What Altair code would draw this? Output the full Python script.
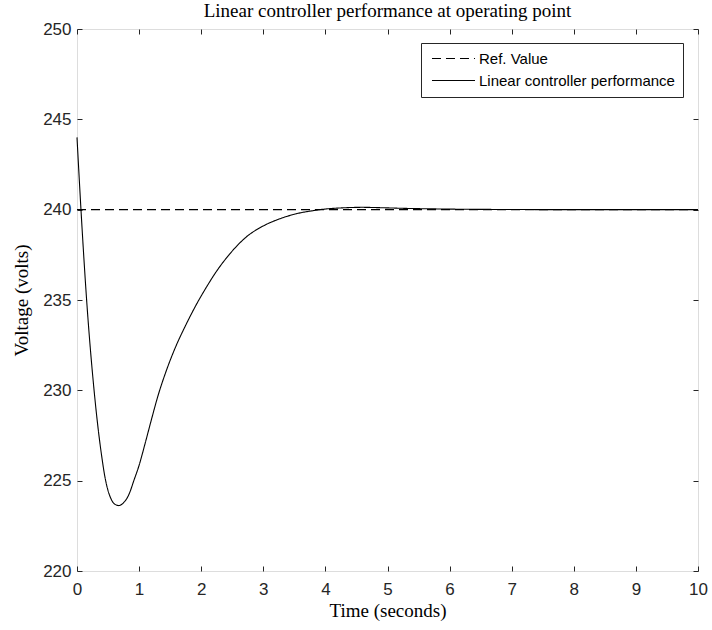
import altair as alt
import pandas as pd

# ---- data ----
time_s = [0, 0.064, 0.155, 0.275, 0.35, 0.4, 0.45, 0.5, 0.55, 0.6, 0.675, 0.75, 0.8,
          0.85, 0.91, 1.0, 1.1, 1.2, 1.3, 1.45, 1.6, 1.75, 1.93, 2.1, 2.2, 2.46, 2.73,
          3.0, 3.27, 3.54, 3.81, 3.91, 4.34, 4.6, 4.88, 5.3, 5.8, 6.3, 7.0, 8.0, 9.0, 10.0]
volts = [244.0, 240.0, 235.0, 230.0, 227.6, 226.3, 225.2, 224.45, 223.98, 223.72, 223.62,
         223.78, 224.0, 224.35, 224.95, 225.85, 227.1, 228.4, 229.65, 231.2, 232.5, 233.6,
         234.8, 235.8, 236.35, 237.55, 238.5, 239.1, 239.5, 239.78, 239.95, 240.0, 240.11,
         240.13, 240.11, 240.07, 240.04, 240.02, 240.01, 240.0, 240.0, 240.0]
ref_time = [0, 10]
ref_volts = [240, 240]
series_names = ["Ref. Value", "Linear controller performance"]
x_ticks = [0, 1, 2, 3, 4, 5, 6, 7, 8, 9, 10]
y_ticks = [220, 225, 230, 235, 240, 245, 250]

df = pd.concat([
    pd.DataFrame({"t": ref_time, "v": ref_volts, "s": series_names[0]}),
    pd.DataFrame({"t": time_s, "v": volts, "s": series_names[1]}),
], ignore_index=True)

AX = "#262626"
SANS = "Liberation Sans"
SERIF = "Liberation Serif"
xscale = alt.Scale(domain=[0, 10], nice=False, zero=False)
yscale = alt.Scale(domain=[220, 250], nice=False, zero=False)

main = alt.Chart(df).mark_line(color="black", strokeWidth=1.1, interpolate="monotone").encode(
    x=alt.X("t:Q", scale=xscale,
            axis=alt.Axis(values=x_ticks, title="Time (seconds)", ticks=False, tickSize=0,
                          domain=False, grid=False, labelPadding=10, titlePadding=4,
                          labelFlush=False,
                          labelFont=SANS, labelFontSize=17, labelColor=AX,
                          titleFont=SERIF, titleFontSize=19, titleFontWeight="normal",
                          titleColor="black")),
    y=alt.Y("v:Q", scale=yscale,
            axis=alt.Axis(values=y_ticks, title="Voltage (volts)", ticks=False, tickSize=0,
                          domain=False, grid=False, labelPadding=6, titlePadding=11,
                          labelFlush=False,
                          labelFont=SANS, labelFontSize=17, labelColor=AX,
                          titleFont=SERIF, titleFontSize=19, titleFontWeight="normal",
                          titleColor="black")),
    strokeDash=alt.StrokeDash(
        "s:N",
        scale=alt.Scale(domain=series_names, range=[[9, 5], [1, 0]]),
        legend=alt.Legend(
            title=None, orient="none", legendX=344, legendY=14,
            symbolType="M-4,0L4,0", symbolSize=115.6, symbolOffset=17,
            symbolStrokeColor="black", symbolStrokeWidth=1,
            labelFont=SANS, labelFontSize=15, labelColor="black", labelOffset=18,
            labelLimit=400, padding=8, rowPadding=6, fillColor="white", strokeColor=AX,
            cornerRadius=0,
        ),
    ),
)

ticks_bl = alt.Chart(df).mark_line(strokeOpacity=0).encode(
    x=alt.X("t:Q", scale=xscale,
            axis=alt.Axis(orient="bottom", values=x_ticks, title=None, labels=False,
                          domain=False, grid=False, ticks=True, tickSize=5, offset=-5,
                          tickColor=AX)),
    y=alt.Y("v:Q", scale=yscale,
            axis=alt.Axis(orient="left", values=y_ticks, title=None, labels=False,
                          domain=False, grid=False, ticks=True, tickSize=5, offset=-5,
                          tickColor=AX)),
)

ticks_tr = alt.Chart(df).mark_line(strokeOpacity=0).encode(
    x=alt.X("t:Q", scale=xscale,
            axis=alt.Axis(orient="top", values=x_ticks, title=None, labels=False,
                          domain=False, grid=False, ticks=True, tickSize=5, offset=-5,
                          tickColor=AX)),
    y=alt.Y("v:Q", scale=yscale,
            axis=alt.Axis(orient="right", values=y_ticks, title=None, labels=False,
                          domain=False, grid=False, ticks=True, tickSize=5, offset=-5,
                          tickColor=AX)),
)

chart = alt.layer(main, ticks_bl, ticks_tr).resolve_axis(
    x="independent", y="independent"
).properties(
    width=621, height=542,
    title=alt.TitleParams("Linear controller performance at operating point",
                          font=SERIF, fontSize=19, fontWeight="normal", color="black",
                          anchor="middle", offset=-1),
    autosize=alt.AutoSizeParams(type="none"),
    padding={"left": 77, "top": 29, "right": 14, "bottom": 59},
).configure_view(stroke=AX, strokeWidth=1).configure(background="white")

chart.save("out.html", embed_options={"renderer": "svg", "actions": False})
